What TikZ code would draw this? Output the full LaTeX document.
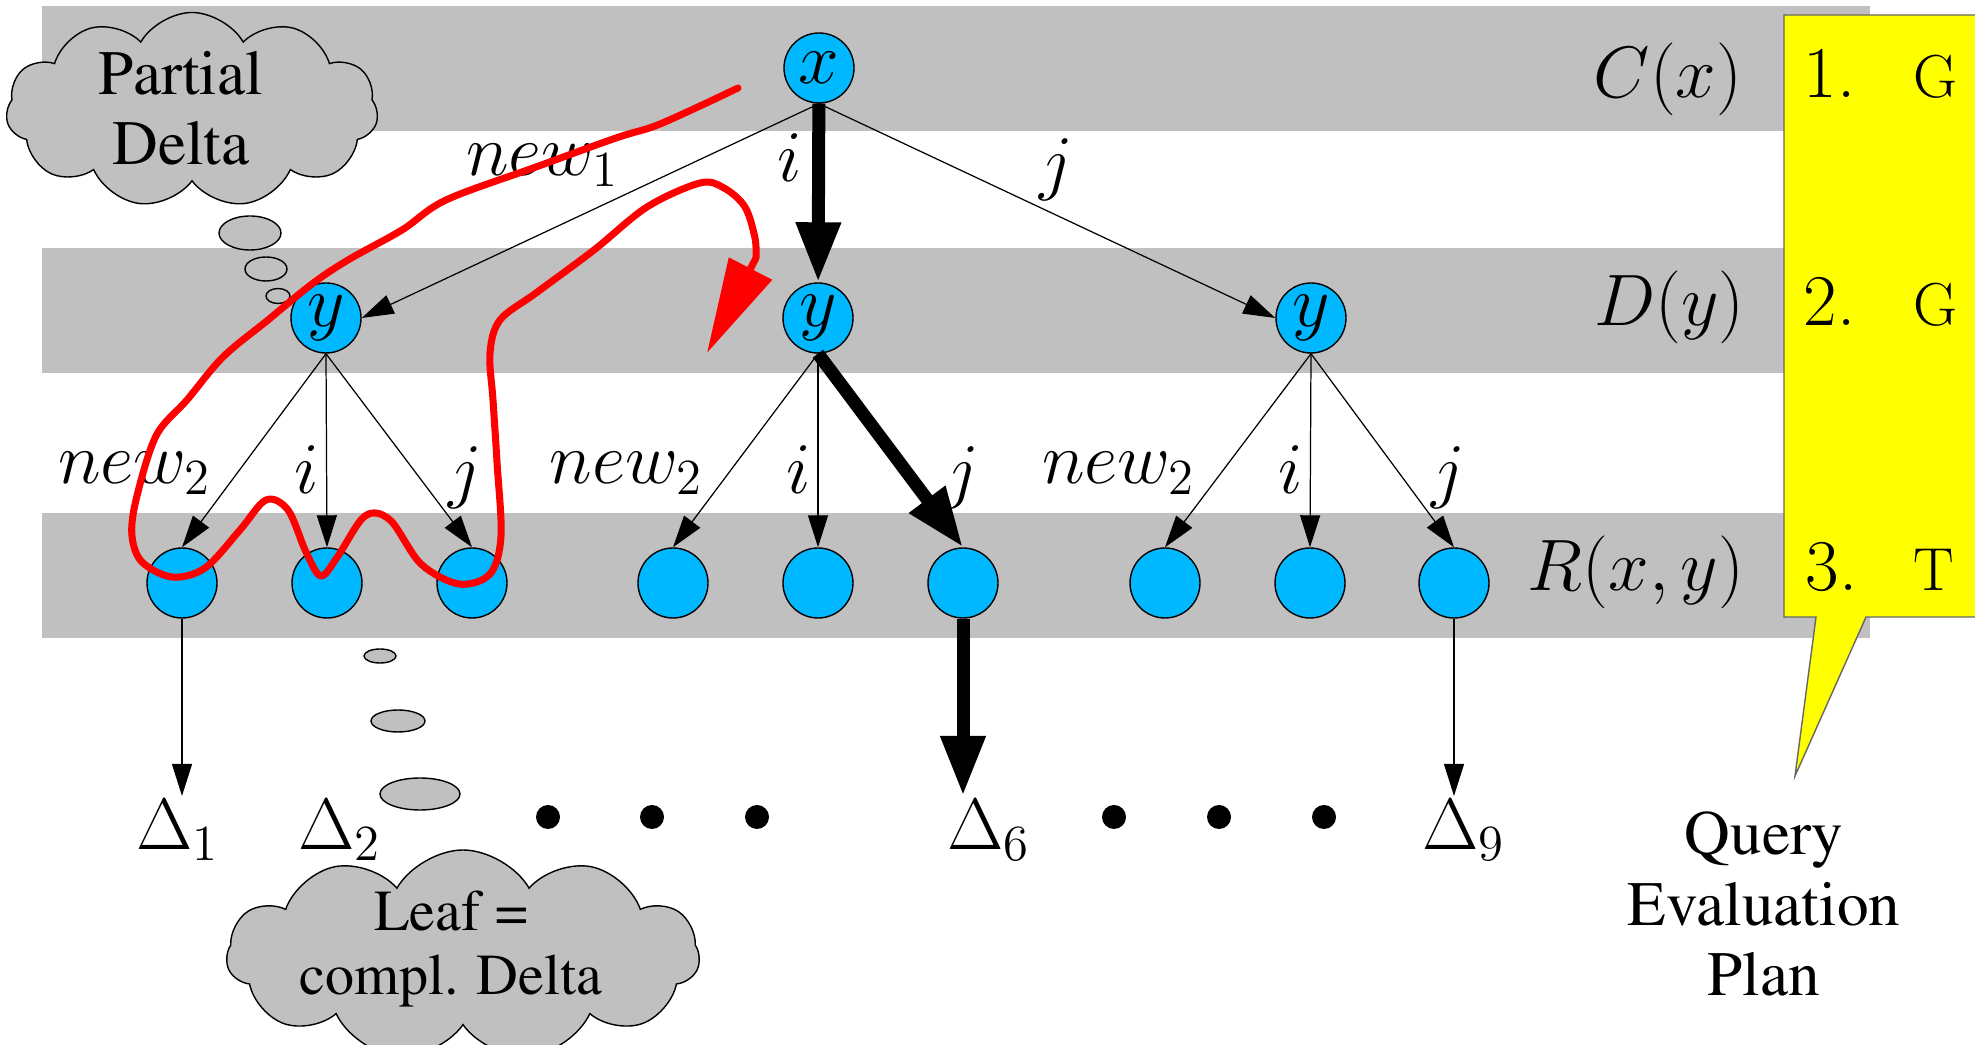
\documentclass[tikz,border=0pt]{standalone}
\usepackage{amsmath}
\usetikzlibrary{arrows.meta,shapes.symbols}
\newcommand\timesfont{\fontencoding{OT1}\fontfamily{ptm}\selectfont}
\newcommand\cmfont{\fontencoding{OT1}\fontfamily{cmr}\selectfont}
\definecolor{bandgray}{RGB}{192,192,192}
\definecolor{varblue}{RGB}{0,184,255}
\definecolor{planyellow}{RGB}{255,255,0}
\definecolor{tracered}{RGB}{255,0,0}

\begin{document}
\begin{tikzpicture}[x=0.1mm,y=-0.1mm,font=\fontsize{20.5}{24}\selectfont,
    var/.style={circle,draw,fill=varblue,minimum size=0.7cm,inner sep=0pt,line width=0.4pt},
    thinedge/.style={-{Triangle[length=0.32cm,width=0.2cm]},line width=0.35pt},
    thickedge/.style={-{Triangle[length=0.6cm,width=0.42cm]},line width=3.7pt},
    lbl/.style={inner sep=2pt},
    rowlbl/.style={anchor=base east,inner sep=0pt},
    stepno/.style={anchor=base west,inner sep=0pt,font=\cmfont\fontsize{20.5}{24}\selectfont},
    opname/.style={anchor=base west,inner sep=0pt,font=\cmfont\fontsize{18}{20}\selectfont},
    thought/.style={cloud,cloud puffs=11,cloud puff arc=120,cloud ignores aspect,draw,fill=bandgray,inner sep=0pt,line width=0.4pt},
    thoughttxt/.style={align=center,inner sep=0pt},
    bubble/.style={draw,fill=bandgray,line width=0.4pt},
    trace/.style={draw=tracered,line width=2pt,line cap=round,line join=round}]
  \useasboundingbox (0,0) rectangle (1975,1045);
  % level bands
  \foreach \top in {6,248,513}
    \fill[bandgray] (42,\top) rectangle (1870,\top+125);
  % plan callout
  \draw[fill=planyellow,draw=black!60,line width=0.4pt] (1784,15) -- (1995,15) -- (1995,617) -- (1866,617)
    -- (1795,776) -- (1816,617) -- (1784,617) -- cycle;
  \node[rowlbl] (lc) at (1743,98) {$C(x)$};
  \node[rowlbl] (ld) at (1745,326) {$D(y)$};
  \node[rowlbl] (lr) at (1745,591) {$R(x,y)$};
  \node[stepno] (s1) at (1803,98) {1.};
  \node[stepno] (s2) at (1803,326) {2.};
  \node[stepno] (s3) at (1805,591) {3.};
  \node[opname] (o1) at (1913,98) {G};
  \node[opname] (o2) at (1913,326) {G};
  \node[opname] (o3) at (1913,591) {T};
  \node[thoughttxt,font=\timesfont\fontsize{18}{20}\selectfont] (plan) at (1764,904) {Query\\Evaluation\\Plan};
  % thought clouds
  \node[thought,minimum width=3.72cm,minimum height=1.95cm] (partial) at (192,110) {};
  \node[thoughttxt,font=\timesfont\fontsize{18}{20}\selectfont] (partialtxt) at (181,108) {Partial\\Delta};
  \draw[bubble] (250,233) ellipse [x radius=3.1mm,y radius=1.7mm];
  \draw[bubble] (266,269) ellipse [x radius=2.1mm,y radius=1.2mm];
  \draw[bubble] (278,296) ellipse [x radius=1.2mm,y radius=0.75mm];
  \node[thought,minimum width=4.73cm,minimum height=2.1cm] (leaf) at (463,955) {};
  \node[thoughttxt,font=\timesfont\fontsize{16.5}{18}\selectfont] (leaftxt) at (451,949) {Leaf =\\compl. Delta};
  \draw[bubble] (380,656) ellipse [x radius=1.6mm,y radius=0.7mm];
  \draw[bubble] (398,721) ellipse [x radius=2.7mm,y radius=1.1mm];
  \draw[bubble] (420,794) ellipse [x radius=4mm,y radius=1.6mm];
  % tree
  \node[var] (cx) at (819,68) {$x$};
  \node[var] (dy1) at (326,318) {$y$};
  \node[var] (dy2) at (818,318) {$y$};
  \node[var] (dy3) at (1311,318) {$y$};
  \foreach \n/\px in {1/182,2/327,3/472,4/673,5/818,6/963,7/1165,8/1310,9/1454}
    \node[var] (r\n) at (\px,583) {};
  \draw[thinedge] (cx.south) -- node[lbl,pos=0.42,above left]{$new_1$} (dy1.east);
  \draw[thickedge] (cx) -- node[lbl,pos=0.3,left=1pt]{$i$} (dy2);
  \draw[thinedge] (cx.south) -- node[lbl,pos=0.52,above=2pt]{$j$} (dy3.west);
  \foreach \p/\a/\b/\c/\s in {dy1/r1/r2/r3/thinedge,dy2/r4/r5/r6/thickedge,dy3/r7/r8/r9/thinedge} {
    \draw[thinedge] (\p.south) -- node[lbl,pos=0.62,left=5pt]{$new_2$} (\a.north);
    \draw[thinedge] (\p.south) -- node[lbl,pos=0.6,left]{$i$} (\b.north);
    \draw[\s] (\p.south) -- node[lbl,pos=0.64,right=6pt]{$j$} (\c.north);
  }
  % complete deltas
  \node[anchor=base,inner sep=1pt] (d1) at (178,850) {$\Delta_1$};
  \node[anchor=base,inner sep=1pt] (d2) at (340,850) {$\Delta_2$};
  \node[anchor=base,inner sep=1pt] (d6) at (989,850) {$\Delta_6$};
  \node[anchor=base,inner sep=1pt] (d9) at (1464,850) {$\Delta_9$};
  \draw[thinedge] (r1.south) -- (r1.south |- d1.north);
  \draw[thickedge] (r6.south) -- (r6.south |- d6.north);
  \draw[thinedge] (r9.south) -- (r9.south |- d9.north);
  \foreach \px in {548,652,757,1114,1219,1324}
    \fill (\px,817) circle [radius=1.2mm];
  % evaluation trace
  \draw[trace] plot[smooth,tension=0.55] coordinates {(738,88) (700,106) (655,126) (616,138) (536,167) (446,200)
    (402,230) (348,260) (312,284) (268,320) (223,357) (187,400) (156,436) (136,500) (132,536) (142,562)
    (172,577) (205,568) (240,530) (266,500) (288,510) (306,552) (321,576) (338,556) (365,516) (390,520)
    (421,564) (459,584) (490,574) (501,536) (497,462) (493,400) (490,353) (500,320) (536,293) (594,250)
    (647,207) (700,183) (724,188) (745,207) (755,238) (756,258)};
  \draw[trace,line cap=butt,-{Triangle[length=0.95cm,width=0.47cm]}] (756,258) -- (707,353);
\end{tikzpicture}
\end{document}
